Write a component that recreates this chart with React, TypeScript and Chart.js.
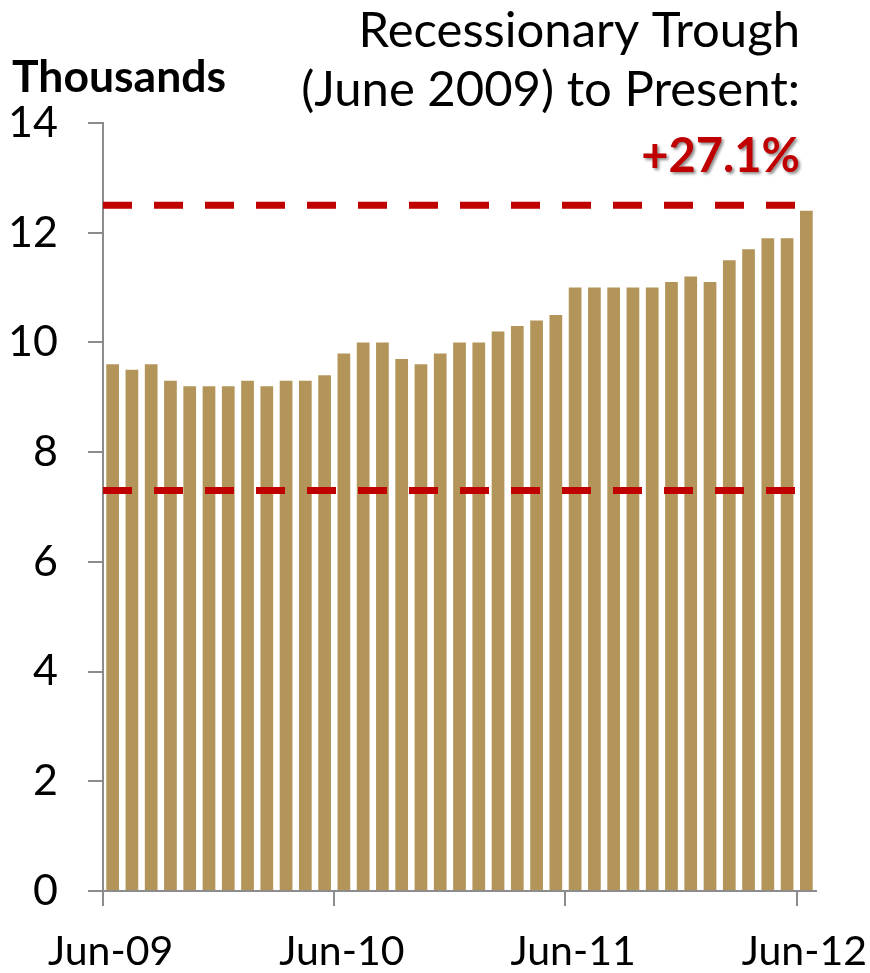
import React, { useEffect, useRef } from "react";
import { Chart, registerables } from "chart.js";

Chart.register(...registerables);

const months = [
  "Jun-09", "Jul-09", "Aug-09", "Sep-09", "Oct-09", "Nov-09", "Dec-09",
  "Jan-10", "Feb-10", "Mar-10", "Apr-10", "May-10",
  "Jun-10", "Jul-10", "Aug-10", "Sep-10", "Oct-10", "Nov-10", "Dec-10",
  "Jan-11", "Feb-11", "Mar-11", "Apr-11", "May-11",
  "Jun-11", "Jul-11", "Aug-11", "Sep-11", "Oct-11", "Nov-11", "Dec-11",
  "Jan-12", "Feb-12", "Mar-12", "Apr-12", "May-12",
  "Jun-12",
];

const values = [
  9.6, 9.5, 9.6, 9.3, 9.2, 9.2, 9.2, 9.3, 9.2, 9.3, 9.3, 9.4,
  9.8, 10.0, 10.0, 9.7, 9.6, 9.8, 10.0, 10.0, 10.2, 10.3, 10.4, 10.5,
  11.0, 11.0, 11.0, 11.0, 11.0, 11.1, 11.2, 11.1, 11.5, 11.7, 11.9, 11.9,
  12.4,
];

const referenceLines = [12.5, 7.3];
const titleLines = ["Recessionary Trough", "(June 2009) to Present:"];
const changeLabel = "+27.1%";
const unitLabel = "Thousands";
const yMin = 0;
const yMax = 14;
const yStep = 2;

const FONT = "Lato, 'Open Sans', sans-serif";
const AXIS = "#8c8c8c";

const overlayPlugin = {
  id: "overlay",
  afterDatasetsDraw(chart: any) {
    const { ctx, scales } = chart;
    const x = scales.x;
    const y = scales.y;
    const half = (x.getPixelForValue(1) - x.getPixelForValue(0)) / 2;
    const left = x.getPixelForValue(0) - half;
    const right = x.getPixelForValue(months.length - 1) - half;
    ctx.save();
    ctx.strokeStyle = "#C00000";
    ctx.lineWidth = 7;
    ctx.setLineDash([29, 22]);
    referenceLines.forEach((v) => {
      const py = y.getPixelForValue(v);
      ctx.beginPath();
      ctx.moveTo(left, py);
      ctx.lineTo(right, py);
      ctx.stroke();
    });
    ctx.restore();
  },
  afterDraw(chart: any) {
    const { ctx } = chart;
    ctx.save();
    ctx.textBaseline = "alphabetic";
    ctx.fillStyle = "#000";
    ctx.textAlign = "left";
    ctx.font = `bold 44.5px ${FONT}`;
    ctx.fillText(unitLabel, 12, 92);

    ctx.textAlign = "right";
    ctx.font = `49px ${FONT}`;
    ctx.fillText(titleLines[0], 800, 47);
    ctx.fillText(titleLines[1], 800, 106);

    ctx.font = `bold 47px ${FONT}`;
    ctx.fillStyle = "#C00000";
    ctx.shadowColor = "rgba(0,0,0,0.45)";
    ctx.shadowOffsetX = 2;
    ctx.shadowOffsetY = 2;
    ctx.shadowBlur = 3;
    ctx.fillText(changeLabel, 800, 172);
    ctx.restore();
  },
};

export default function App() {
  const canvasRef = useRef<HTMLCanvasElement | null>(null);

  useEffect(() => {
    if (!canvasRef.current) return;
    const chart = new Chart(canvasRef.current, {
      type: "bar",
      data: {
        labels: months,
        datasets: [
          {
            data: values,
            backgroundColor: "#B3955A",
            borderWidth: 0,
            barPercentage: 0.66,
            categoryPercentage: 1,
          },
        ],
      },
      options: {
        animation: false,
        responsive: false,
        maintainAspectRatio: false,
        layout: { padding: { top: 123, right: 54, left: 0, bottom: 0 } },
        plugins: {
          legend: { display: false },
          tooltip: { enabled: false },
          title: { display: false },
        },
        scales: {
          x: {
            offset: true,
            grid: {
              display: true,
              offset: true,
              drawOnChartArea: false,
              drawTicks: true,
              tickLength: 15,
              lineWidth: 2,
              color: (c: any) => (c.index % 12 === 0 ? AXIS : "rgba(0,0,0,0)"),
            },
            border: { color: AXIS, width: 2 },
            ticks: {
              autoSkip: false,
              maxRotation: 0,
              minRotation: 0,
              labelOffset: -2,
              padding: 21,
              color: "#000",
              font: { family: FONT, size: 41 },
              callback: (_v: any, i: number) => (i % 12 === 0 ? months[i] : ""),
            },
            afterFit: (s: any) => {
              s.height = 82;
              s.paddingLeft = 0;
              s.paddingRight = 0;
            },
          },
          y: {
            min: yMin,
            max: yMax,
            grid: {
              drawOnChartArea: false,
              drawTicks: true,
              tickLength: 15,
              lineWidth: 2,
              color: AXIS,
            },
            border: { color: AXIS, width: 2 },
            ticks: {
              stepSize: yStep,
              padding: 30,
              color: "#000",
              font: { family: FONT, size: 43 },
            },
            afterFit: (s: any) => {
              s.width = 103;
              s.paddingTop = 0;
              s.paddingBottom = 0;
            },
          },
        },
      },
      plugins: [overlayPlugin],
    });
    return () => chart.destroy();
  }, []);

  return (
    <div style={{ position: "absolute", left: 0, top: 0, width: 870, height: 973, background: "#fff" }}>
      <canvas ref={canvasRef} width={870} height={973} />
    </div>
  );
}
